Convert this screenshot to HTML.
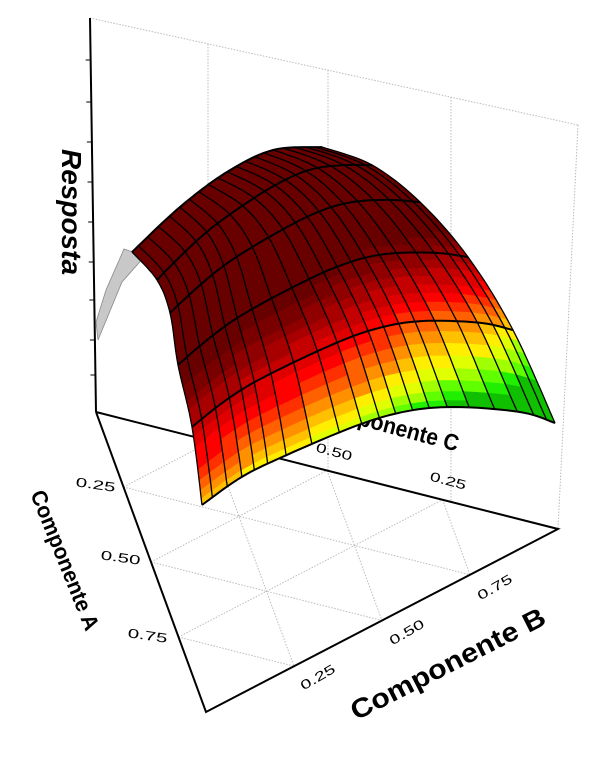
<!DOCTYPE html>
<html><head><meta charset="utf-8"><style>
html,body{margin:0;padding:0;background:#fff;}
svg{display:block;}
text{font-family:"Liberation Sans",Arial,sans-serif;}
</style></head><body>
<svg id="s" width="603" height="759" viewBox="0 0 603 759" xmlns="http://www.w3.org/2000/svg">
<g id="back" fill="none" stroke="#bbb" stroke-width="1" stroke-dasharray="1.5,1.5">
<line x1="90" y1="18" x2="578" y2="125"/>
<line x1="208" y1="44" x2="208" y2="442"/>
<line x1="328" y1="70" x2="328" y2="472"/>
<line x1="451" y1="97" x2="451" y2="503"/>
<line x1="578" y1="125" x2="558" y2="529"/>
</g>
<g id="floor" fill="none" stroke="#bbb" stroke-width="1" stroke-dasharray="1.5,1.5"></g>
<g stroke="#000" stroke-width="2" fill="none">
<line x1="90" y1="18" x2="96" y2="412"/>
<polyline points="96,412 206,712 558,529 96,412"/>
</g>
<g id="ticks" stroke="#000" stroke-width="1"></g>
<text x="0" y="0" font-size="28" font-weight="bold" font-style="italic" transform="translate(62,212) rotate(90)" text-anchor="middle">Resposta</text>
<text font-size="22" font-weight="bold" textLength="149" lengthAdjust="spacingAndGlyphs" text-anchor="middle" transform="translate(58,563) rotate(68)">Componente A</text>
<text font-size="27" font-weight="bold" textLength="215" lengthAdjust="spacingAndGlyphs" text-anchor="middle" transform="translate(452,672) rotate(-27)">Componente B</text>
<text font-size="23" font-weight="bold" textLength="150" lengthAdjust="spacingAndGlyphs" text-anchor="middle" transform="translate(384,432) rotate(15)">Componente C</text>
<g font-size="13" text-anchor="middle" lengthAdjust="spacingAndGlyphs">
<text transform="translate(95,489) rotate(8)" textLength="40" lengthAdjust="spacingAndGlyphs">0.25</text>
<text transform="translate(120,562) rotate(8)" textLength="40" lengthAdjust="spacingAndGlyphs">0.50</text>
<text transform="translate(147,640) rotate(8)" textLength="40" lengthAdjust="spacingAndGlyphs">0.75</text>
<text transform="translate(320,681) rotate(-30)" textLength="38" lengthAdjust="spacingAndGlyphs">0.25</text>
<text transform="translate(409,636) rotate(-30)" textLength="38" lengthAdjust="spacingAndGlyphs">0.50</text>
<text transform="translate(497,591) rotate(-30)" textLength="38" lengthAdjust="spacingAndGlyphs">0.75</text>
<text transform="translate(333,456) rotate(15)" textLength="37" lengthAdjust="spacingAndGlyphs">0.50</text>
<text transform="translate(447,485) rotate(15)" textLength="37" lengthAdjust="spacingAndGlyphs">0.25</text>
</g>
<polygon points="124,249 145,256 122,282 98,340 96,322 106,290" fill="#c8c8c8" stroke="#888" stroke-width="0.8"/>
<g id="surf"></g>
</svg>
<script>
(function(){
var NS="http://www.w3.org/2000/svg";
function el(p,n,a){var e=document.createElementNS(NS,n);for(var k in a)e.setAttribute(k,a[k]);p.appendChild(e);return e;}
var L=[96,412],B=[206,712],R=[558,529];
function bary(a,b,c){return [a*L[0]+b*B[0]+c*R[0],a*L[1]+b*B[1]+c*R[1]];}
var fl=document.getElementById('floor');
for(var k=1;k<4;k++){var f=k/4;
 var lines=[[bary(f,1-f,0),bary(f,0,1-f)],[bary(1-f,f,0),bary(0,f,1-f)],[bary(1-f,0,f),bary(0,1-f,f)]];
 lines.forEach(function(l){el(fl,'line',{x1:l[0][0],y1:l[0][1],x2:l[1][0],y2:l[1][1]});});
}
var tk=document.getElementById('ticks');
[60,102,142,182,222,262,300,340,375].forEach(function(y){var x=90+6*(y-18)/394;el(tk,'line',{x1:x-5,y1:y,x2:x,y2:y});});
function cr(pts,s){var n=pts.length-1;var x=s*n;var i=Math.min(Math.floor(x),n-1);var t=x-i;
 var p0=pts[Math.max(i-1,0)],p1=pts[i],p2=pts[i+1],p3=pts[Math.min(i+2,n)];var r=[];
 for(var d=0;d<2;d++){r[d]=0.5*((2*p1[d])+(-p0[d]+p2[d])*t+(2*p0[d]-5*p1[d]+4*p2[d]-p3[d])*t*t+(-p0[d]+3*p1[d]-3*p2[d]+p3[d])*t*t*t);}return r;}
var Bk=[[132,252],[180,207],[227,172],[273,150],[322,147]];
var Fr=[[202,505],[240,478],[280,458],[353,427],[403,412],[453,407],[520,412],[555,423]];
var Lf=[[132,252],[157,280],[170,313],[178,365],[192,427],[202,505]];
var Rt=[[322,147],[372,165],[420,202],[468,257],[513,330],[555,423]];
var P00=Bk[0],P10=Bk[Bk.length-1],P01=Fr[0],P11=Fr[Fr.length-1];
function P(u,v){var b=cr(Bk,u),f=cr(Fr,u),l=cr(Lf,v),r=cr(Rt,v);var o=[];
 for(var d=0;d<2;d++)o[d]=(1-v)*b[d]+v*f[d]+(1-u)*l[d]+u*r[d]-((1-u)*(1-v)*P00[d]+u*(1-v)*P10[d]+(1-u)*v*P01[d]+u*v*P11[d]);return o;}
var cols=["#680000","#7a0000","#900000","#a80000","#c40000","#e00000","#ff0000","#ff3000","#ff6000","#ff9000","#ffc000","#ffee00","#e0ff00","#a0ff00","#60ff00","#20f000","#10c000"];
function col(u,v){var h=1-0.75*Math.pow(v,2.6)-0.55*u*u*Math.pow(v,2);if(h<0)h=0;
 if(h>=0.75)return cols[0];var idx=Math.round((0.75-h)/0.75*16);return cols[Math.min(16,Math.max(0,idx))];}
var sf=document.getElementById('surf');
var NU=20,NV=40;
for(var i=0;i<NU;i++)for(var j=0;j<NV;j++){
 var u0=i/NU,u1=(i+1)/NU,v0=j/NV,v1=(j+1)/NV;
 var pts=[P(u0,v0),P(u1,v0),P(u1,v1),P(u0,v1)];
 var c=col((u0+u1)/2,(v0+v1)/2);
 el(sf,'polygon',{points:pts.map(function(p){return p[0].toFixed(1)+','+p[1].toFixed(1);}).join(' '),fill:c,stroke:c,'stroke-width':0.6});
}
for(var i=0;i<=NU;i++){var s=[];for(var j=0;j<=50;j++){var p=P(i/NU,j/50);s.push(p[0].toFixed(1)+','+p[1].toFixed(1));}
 el(sf,'polyline',{points:s.join(' '),fill:'none',stroke:'#000','stroke-width':1.3});}
for(var k=0;k<=5;k++){var s=[];for(var j=0;j<=60;j++){var p=P(j/60,k/5);s.push(p[0].toFixed(1)+','+p[1].toFixed(1));}
 el(sf,'polyline',{points:s.join(' '),fill:'none',stroke:'#000','stroke-width':2});}
})();
</script>
</body></html>
